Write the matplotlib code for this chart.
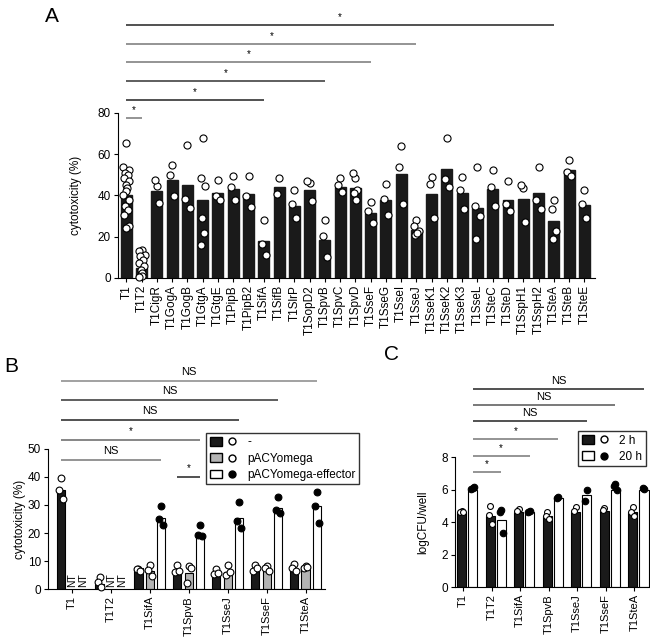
import matplotlib

matplotlib.use("Agg")
import matplotlib.pyplot as plt
import numpy as np
from matplotlib.patches import Patch
from matplotlib.lines import Line2D
from matplotlib.legend_handler import HandlerTuple

plt.rcParams["font.family"] = ["Liberation Sans", "DejaVu Sans"]

# ---- panel A: cytotoxicity of single-effector strains ----
a_labels = ["T1", "T1T2", "T1CigR", "T1GogA", "T1GogB", "T1GtgA", "T1GtgE", "T1PipB",
            "T1PipB2", "T1SifA", "T1SifB", "T1SlrP", "T1SopD2", "T1SpvB", "T1SpvC",
            "T1SpvD", "T1SseF", "T1SseG", "T1SseI", "T1SseJ", "T1SseK1", "T1SseK2",
            "T1SseK3", "T1SseL", "T1SteC", "T1SteD", "T1SspH1", "T1SspH2", "T1SteA",
            "T1SteB", "T1SteE"]
a_means = [40, 5, 42, 47.7, 45, 37.6, 41.2, 43.1, 40.7, 18.1, 44.1, 35, 42.8, 18.6, 44.1,
           43.6, 31.5, 37.6, 50.6, 23.4, 40.7, 52.8, 41, 33.8, 43.1, 38, 38.3, 41.4, 27.6,
           52.2, 35.4]
a_points = [
    [65.4, 54, 52.5, 51, 50, 48.5, 47, 45, 43.6, 42, 40.4, 38, 34.7, 33, 30.7, 25, 24.2],
    [13.7, 13, 11.3, 10.5, 8.9, 7.3, 5.7, 4, 2.4, 1.1, 0.5],
    [44.7, 47.3, 36.3],
    [54.9, 50, 39.6],
    [64.3, 38.3, 33.9],
    [67.8, 48.5, 44.7, 29, 22, 16.2],
    [47.7, 39.6, 38],
    [49.3, 44.1, 37.6],
    [49.6, 39.6, 34.4],
    [28.3, 16.6, 11],
    [48.5, 40.7],
    [42.5, 36, 29],
    [46, 46.8, 37.2],
    [28.3, 20.2, 10],
    [48.5, 45.2, 41.5],
    [48.5, 50.9, 42.8, 41.2, 38],
    [36.8, 32.6, 26.7],
    [45.7, 38.4, 30.4],
    [64.1, 53.8, 35.9],
    [28.3, 25.4, 22.6, 21, 21.8],
    [49, 45.7, 29.1],
    [67.7, 48.1, 43.9],
    [49, 42.5, 33.6],
    [53.8, 34.7, 29.9, 19.1],
    [52.2, 43.9, 34.7],
    [47, 35.9, 32.6],
    [43.8, 45.2, 27],
    [54, 38, 33.6],
    [38, 33.6, 22.9, 18.9],
    [57, 51.4, 49.6],
    [42.8, 35.7, 29.1],
]
# comparisons vs T1: (end index, line height, label)
a_sig_end = [28, 19, 16, 13, 9, 1]
a_sig_y = [122.7, 113.5, 104.7, 95.5, 86.3, 77.6]
a_sig_lab = ["*", "*", "*", "*", "*", "*"]
a_sig_col = ["#222222", "#777777", "#777777", "#333333", "#222222", "#777777"]

# ---- panel B: complementation cytotoxicity ----
b_groups = ["T1", "T1T2", "T1SifA", "T1SpvB", "T1SseJ", "T1SseF", "T1SteA"]
b_none = [35.4, 1.9, 7.5, 6.3, 5.6, 6.9, 7.1]
b_pacy = [None, None, 6.3, 5.7, 6.1, 6.9, 8.1]
b_eff = [None, None, 25.5, 19.7, 25.5, 28.9, 29.5]
b_none_pts = [[39.5, 35.4, 32.2], [4.2, 2.4, 0.7], [7.3, 7.0, 6.6], [8.7, 5.9, 6.3],
              [7.1, 5.2, 5.6], [8.7, 6.3, 7.5], [9.0, 7.5, 6.3]]
b_pacy_pts = [[], [], [8.7, 6.9, 4.5], [8.1, 2.1, 7.5], [8.7, 4.9, 6.0], [8.1, 7.5, 6.3],
              [8.3, 7.5, 7.9]]
b_eff_pts = [[], [], [29.5, 24.9, 22.7], [22.7, 19.4, 19.0], [31, 24.3, 21.7],
             [32.8, 28.3, 27.3], [34.8, 29.8, 23.5]]
# (from, to) in bar positions, y, label
b_sig = [((0, 0), (6, 2), 74.3, "NS", "#888888"),
         ((0, 0), (5, 2), 67.5, "NS", "#333333"),
         ((0, 0), (4, 2), 60.4, "NS", "#222222"),
         ((0, 0), (3, 2), 53.2, "*", "#666666"),
         ((0, 0), (2, 2), 46.1, "NS", "#777777"),
         ((3, 0), (3, 2), 40.0, "*", "#222222")]

# ---- panel C: intracellular growth ----
c_groups = ["T1", "T1T2", "T1SifA", "T1SpvB", "T1SseJ", "T1SseF", "T1SteA"]
c_2h = [4.65, 4.4, 4.65, 4.35, 4.65, 4.7, 4.6]
c_20h = [6.0, 4.15, 4.6, 5.5, 5.65, 6.0, 5.95]
c_2h_pts = [[4.7, 4.6, 4.65], [5.0, 4.45, 3.9], [4.8, 4.7], [4.65, 4.4, 4.2],
            [4.9, 4.7], [4.85, 4.75], [4.9, 4.65, 4.4]]
c_20h_pts = [[6.1, 6.05, 6.15], [4.75, 4.6, 3.3], [4.7, 4.65], [5.55, 5.5],
             [5.95, 5.3], [6.35, 6.2, 5.95], [6.05, 6.1]]
c_sig_end = [6, 5, 4, 3, 2, 1]
c_sig_y = [12.2, 11.2, 10.2, 9.1, 8.06, 7.08]
c_sig_lab = ["NS", "NS", "NS", "*", "*", "*"]
c_sig_col = ["#222222", "#555555", "#222222", "#777777", "#777777", "#777777"]


def style_axes(ax, top, ticks, xfs):
    for s in ["top", "right"]:
        ax.spines[s].set_visible(False)
    ax.spines["left"].set_bounds(0, top)
    ax.set_yticks(ticks)
    ax.tick_params(axis="y", labelsize=8.5, length=3, width=0.8, direction="out", pad=2)
    ax.tick_params(axis="x", labelsize=xfs, length=3, width=0.8, direction="out", pad=2)
    ax.spines["left"].set_linewidth(0.8)
    ax.spines["bottom"].set_linewidth(0.8)


def dots(ax, x, vals, spread, face, size=24):
    offs = [0, -1, 1, -0.5, 0.5, -0.8, 0.8, -0.2, 0.2]
    xs = [x + offs[k % len(offs)] * spread for k in range(len(vals))]
    ax.scatter(xs, vals, s=size, facecolor=face, edgecolor="black", linewidth=0.8,
               zorder=4, clip_on=False)


def sig(ax, x0, x1, y, label, color, dy, fs):
    ax.plot([x0, x1], [y, y], color=color, lw=1.1, clip_on=False, solid_capstyle="butt")
    ax.text((x0 + x1) / 2, y + dy, label, ha="center", va="bottom", fontsize=fs,
            clip_on=False)


fig = plt.figure(figsize=(6.5, 6.37), dpi=100)

# panel A
axA = fig.add_axes([118 / 650, 1 - 278 / 637, 477 / 650, 258 / 637])
xa = np.arange(len(a_labels))
axA.bar(xa, a_means, width=0.72, color="#1a1a1a", edgecolor="#1a1a1a", zorder=2)
for i, pts in enumerate(a_points):
    dots(axA, i, pts, 0.2 if len(pts) > 6 else 0.14, "white", size=26)
style_axes(axA, 80, [0, 20, 40, 60, 80], 8.5)
axA.set_ylim(0, 125)
axA.set_xlim(-0.55, 30.7)
axA.set_xticks(xa)
axA.set_xticklabels(a_labels, rotation=90)
axA.set_ylabel("cytotoxicity (%)", fontsize=8.5)
axA.yaxis.set_label_coords(-0.075, 80 / 125 / 2)
for e, y, lab, col in zip(a_sig_end, a_sig_y, a_sig_lab, a_sig_col):
    sig(axA, 0, e, y, lab, col, 1.2, 7)
fig.text(45 / 650, 1 - 22 / 637, "A", fontsize=15)

# panel B
axB = fig.add_axes([48 / 650, 1 - 589 / 637, 277 / 650, 224 / 637])
xb = np.arange(len(b_groups))
off = 0.295
bw = 0.21
for i in xb:
    axB.bar(i - off, b_none[i], width=bw, color="#1a1a1a", edgecolor="black", lw=0.8, zorder=2)
    dots(axB, i - off, b_none_pts[i], 0.05, "white", size=24)
    if b_pacy[i] is None:
        axB.text(i, 0.6, "NT", rotation=90, ha="center", va="bottom", fontsize=7.5)
        axB.text(i + off, 0.6, "NT", rotation=90, ha="center", va="bottom", fontsize=7.5)
        continue
    axB.bar(i, b_pacy[i], width=bw, color="#b3b3b3", edgecolor="black", lw=0.8, zorder=2)
    dots(axB, i, b_pacy_pts[i], 0.05, "white", size=24)
    axB.bar(i + off, b_eff[i], width=bw, color="white", edgecolor="black", lw=0.8, zorder=2)
    dots(axB, i + off, b_eff_pts[i], 0.05, "black", size=24)
style_axes(axB, 50, [0, 10, 20, 30, 40, 50], 8)
axB.set_ylim(0, 80)
axB.set_xlim(-0.62, 6.5)
axB.set_xticks(xb)
axB.set_xticklabels(b_groups, rotation=90)
axB.set_ylabel("cytotoxicity (%)", fontsize=8.5)
axB.yaxis.set_label_coords(-0.08, 50 / 80 / 2)
for (g0, k0), (g1, k1), y, lab, col in b_sig:
    x0 = g0 + (k0 - 1) * off
    x1 = g1 + (k1 - 1) * off
    sig(axB, x0, x1, y, lab, col, 1.3, 8 if lab == "NS" else 7)
fig.text(4 / 650, 1 - 372 / 637, "B", fontsize=15)

hB = [(Patch(facecolor="#1a1a1a", edgecolor="black"),
       Line2D([], [], marker="o", ls="", mfc="white", mec="black", ms=5)),
      (Patch(facecolor="#b3b3b3", edgecolor="black"),
       Line2D([], [], marker="o", ls="", mfc="white", mec="black", ms=5)),
      (Patch(facecolor="white", edgecolor="black"),
       Line2D([], [], marker="o", ls="", mfc="black", mec="black", ms=5))]
legB = fig.legend(hB, ["-", "pACYomega", "pACYomega-effector"],
                  handler_map={tuple: HandlerTuple(ndivide=None, pad=0.3)},
                  loc="upper left", bbox_to_anchor=(206 / 650, 1 - 433 / 637),
                  fontsize=8.5, frameon=True, fancybox=False, borderaxespad=0,
                  handlelength=2.4, handletextpad=0.8, labelspacing=0.35,
                  borderpad=0.3)
legB.get_frame().set_edgecolor("black")
legB.get_frame().set_linewidth(1)

# panel C
axC = fig.add_axes([455 / 650, 1 - 587 / 637, 195 / 650, 211 / 637])
xc = np.arange(len(c_groups))
cw = 0.32
wo = 0.39
for i in xc:
    axC.bar(i, c_2h[i], width=cw, color="#1a1a1a", edgecolor="black", lw=0.8, zorder=2)
    dots(axC, i, c_2h_pts[i], 0.05, "white", size=18)
    axC.bar(i + wo, c_20h[i], width=cw, color="white", edgecolor="black", lw=0.8, zorder=2)
    dots(axC, i + wo, c_20h_pts[i], 0.05, "black", size=22)
style_axes(axC, 8, [0, 2, 4, 6, 8], 8)
axC.set_ylim(0, 13)
axC.set_xlim(-0.23, 6.6)
axC.set_xticks(xc + 0.05)
axC.set_xticklabels(c_groups, rotation=90)
axC.set_ylabel("logCFU/well", fontsize=8.5)
axC.yaxis.set_label_coords(-0.13, 8 / 13 / 2)
for e, y, lab, col in zip(c_sig_end, c_sig_y, c_sig_lab, c_sig_col):
    sig(axC, wo, e + wo, y, lab, col, 0.2, 8 if lab == "NS" else 7)
fig.text(384 / 650, 1 - 360 / 637, "C", fontsize=15)

hC = [(Patch(facecolor="#1a1a1a", edgecolor="black"),
       Line2D([], [], marker="o", ls="", mfc="white", mec="black", ms=5)),
      (Patch(facecolor="white", edgecolor="black"),
       Line2D([], [], marker="o", ls="", mfc="black", mec="black", ms=5))]
legC = fig.legend(hC, ["2 h", "20 h"],
                  handler_map={tuple: HandlerTuple(ndivide=None, pad=0.3)},
                  loc="upper left", bbox_to_anchor=(578 / 650, 1 - 431 / 637),
                  fontsize=8.5, frameon=True, fancybox=False, borderaxespad=0,
                  handlelength=2.4, handletextpad=0.8, labelspacing=0.35,
                  borderpad=0.3)
legC.get_frame().set_edgecolor("black")
legC.get_frame().set_linewidth(1)

fig.savefig("out.png", dpi=100)
